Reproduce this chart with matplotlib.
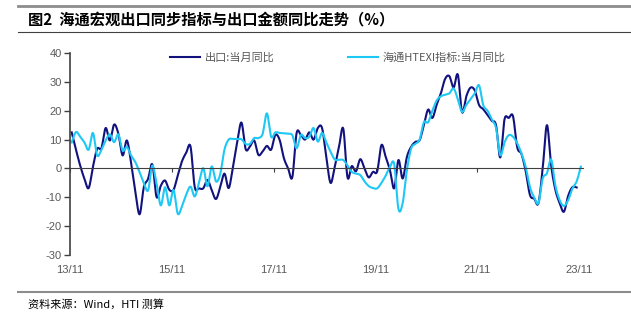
import numpy as np
import matplotlib.pyplot as plt
from matplotlib.lines import Line2D
import matplotlib.transforms as mtransforms

plt.rcParams['font.family'] = ['Liberation Sans', 'Noto Sans CJK SC', 'DejaVu Sans']
plt.rcParams['axes.unicode_minus'] = False
CJK = ['Noto Sans CJK SC', 'Liberation Sans', 'DejaVu Sans']

# monthly values, starting 2013-11
export_yoy = [
    12.5, 6.5, 1.0, -3.6, -6.8, 0.5, 6.8, 7.0, 14.0, 9.7,
    15.2, 12.0, 4.5, 9.7, 2.0, -8.0, -15.9, -6.5, -3.6, 1.4,
    -9.9, -6.0, -4.2, -7.4, -7.4, -2.4, 2.5, 5.5, 7.6, -6.5,
    -6.9, -6.9, -4.0, -7.5, -10.6, -6.5, -1.8, -6.8, 0.5, 9.0,
    15.9, 6.7, 7.6, 9.7, 4.7, 5.9, 7.8, 6.5, 11.6, 9.9,
    3.6, 0.0, -3.0, 12.2, 11.6, 10.0, 12.5, 10.0, 14.0, 14.0,
    4.0, -5.0, 0.6, 7.5, 13.8, -3.1, 0.8, -1.0, 3.2, 0.0,
    -3.1, -1.2, -1.0, 8.1, 4.0, -0.6, -6.9, 2.9, -3.5, 4.0,
    7.5, 9.2, 9.8, 15.0, 20.4, 17.5, 22.0, 26.0, 31.0, 32.0,
    28.0, 32.5, 19.5, 25.0, 28.0, 27.0, 22.0, 20.5, 18.5, 16.5,
    15.0, 3.8, 17.0, 17.5, 18.1, 7.3, 5.0, -1.0, -9.2, -10.5,
    -12.0, 0.0, 15.0, 1.0, -7.5, -12.0, -15.0, -9.5, -6.5, -6.6,
]
htexi_yoy = [
    9.0, 12.6, 11.0, 9.0, 6.5, 12.3, 4.5, 6.5, 9.7, 11.8,
    9.1, 11.8, 6.2, 7.4, 4.5, 2.2, -1.3, -5.0, -7.6, 1.0,
    -5.3, -12.8, -6.5, -12.8, -7.5, -15.7, -13.0, -9.0, -6.3, -9.7,
    -5.0, 0.1, -6.2, 0.7, -4.5, -2.0, 6.5, 10.0, 10.2, 10.2,
    10.1, 8.5, 8.5, 10.5, 10.5, 12.0, 19.1, 11.0, 12.5, 12.3,
    12.2, 12.0, 11.5, 7.0, 11.6, 10.5, 11.0, 14.0, 9.3, 12.3,
    9.0, 5.8, 3.1, 3.0, 2.9, 1.0, -1.2, -1.8, -2.3, -4.5,
    -6.1, -6.8, -6.9, -5.0, -2.5, 0.5, 1.5, -14.0, -12.0, -0.6,
    6.9, 8.5, 10.0, 16.0, 16.0, 20.0, 23.5, 25.0, 25.5, 26.0,
    27.7, 24.0, 19.6, 22.0, 24.0, 26.0, 28.8, 21.9, 20.0, 17.0,
    14.0, 4.6, 9.0, 11.5, 11.0, 8.7, 5.2, 0.5, -6.5, -10.0,
    -12.0, -3.5, -1.7, 3.1, -6.0, -11.0, -13.0, -11.0, -7.0, -4.5,
    0.6,
]
tick_labels = ['13/11', '15/11', '17/11', '19/11', '21/11', '23/11']
names = ['出口:当月同比', '海通HTEXI指标:当月同比']


def smooth(y, n=12):
    # catmull-rom, like excel's smoothed line
    x = np.arange(len(y), dtype=float)
    xs, ys = [], []
    for i in range(len(y) - 1):
        i0, i3 = max(i - 1, 0), min(i + 2, len(y) - 1)
        t = np.linspace(0, 1, n, endpoint=False)
        for arr, out in ((x, xs), (np.asarray(y, float), ys)):
            p0, p1, p2, p3 = arr[i0], arr[i], arr[i + 1], arr[i3]
            out.extend(0.5 * (2 * p1 + (-p0 + p2) * t
                              + (2 * p0 - 5 * p1 + 4 * p2 - p3) * t ** 2
                              + (-p0 + 3 * p1 - 3 * p2 + p3) * t ** 3))
    xs.append(len(y) - 1)
    ys.append(y[-1])
    return xs, ys


fig = plt.figure(figsize=(6.31, 3.22), dpi=100)
ax = fig.add_axes([70 / 631, 67 / 322, 513 / 631, 202 / 322])

x1, y1 = smooth(export_yoy)
x2, y2 = smooth(htexi_yoy)
ax.plot(x1, y1, color='#12127e', lw=1.5, label=names[0])
ax.plot(x2, y2, color='#1ec8f5', lw=1.5, label=names[1])

ax.set_xlim(-0.4, 120.5)
ax.set_ylim(-30, 40)
ax.set_yticks(range(-30, 41, 10))
ax.tick_params(axis='y', direction='out', length=4, width=1, color='#404040',
               labelsize=8, labelcolor='#595959', pad=2)

ticks = [24 * k - 0.4 for k in range(len(tick_labels))]
ax.spines['bottom'].set_position(('data', 0))
ax.spines['bottom'].set_color('#404040')
ax.spines['left'].set_color('#404040')
ax.spines['left'].set_linewidth(1.2)
ax.spines['top'].set_visible(False)
ax.spines['right'].set_visible(False)
ax.set_xticks(ticks)
ax.set_xticklabels([])
ax.tick_params(axis='x', direction='out', length=3, color='#404040')
trans = mtransforms.blended_transform_factory(ax.transData, ax.transAxes)
for t, lab in zip(ticks, tick_labels):
    ax.text(t, -0.075, lab, transform=trans, ha='center', va='center',
            fontsize=8, color='#595959')

leg = ax.legend(loc='center', bbox_to_anchor=(0.522, 0.975), ncol=2, frameon=False,
                handlelength=2.7, handletextpad=0.45, columnspacing=6.6,
                prop={'family': CJK, 'size': 8})
for txt in leg.get_texts():
    txt.set_color('#595959')

# header and footer
fig.add_artist(Line2D([18 / 631, 1], [1 - 6 / 322] * 2, color='#8c8c8c', lw=2))
fig.add_artist(Line2D([18 / 631, 1], [1 - 32 / 322] * 2, color='#404040', lw=0.8))
fig.text(28 / 631, 1 - 19 / 322, '图2  海通宏观出口同步指标与出口金额同比走势（%）',
         family=CJK, fontsize=11, fontweight='bold', va='center', ha='left')
fig.add_artist(Line2D([18 / 631, 1], [1 - 292 / 322] * 2, color='#8c8c8c', lw=1.5))
fig.text(28 / 631, 1 - 304 / 322, '资料来源：Wind，HTI 测算', family=CJK,
         fontsize=8, va='center', ha='left')

fig.savefig('out.png', dpi=100)
